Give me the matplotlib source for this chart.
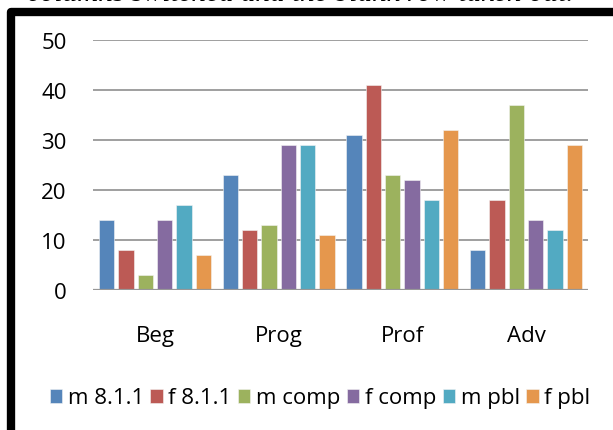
import matplotlib
matplotlib.use("Agg")
import matplotlib.pyplot as plt
import numpy as np
from matplotlib.lines import Line2D

levels = ["Beg", "Prog", "Prof", "Adv"]
series_names = ["m 8.1.1", "f 8.1.1", "m comp", "f comp", "m pbl", "f pbl"]
m_811 = [14, 23, 31, 8]
f_811 = [8, 12, 41, 18]
m_comp = [3, 13, 23, 37]
f_comp = [14, 29, 22, 14]
m_pbl = [17, 29, 18, 12]
f_pbl = [7, 11, 32, 29]
y_ticks = [0, 10, 20, 30, 40, 50]

colors = ["#5585ba", "#bc5a55", "#9cb25e", "#856ba0", "#52aac2", "#e5974d"]
FONT = "Open Sans"

W, H = 613, 431
fig = plt.figure(figsize=(W / 100, H / 100), dpi=100)
fig.patch.set_facecolor("white")

# caption line, mostly above the top edge
fig.text(300 / W, 1 - 1 / H, "columns switched and the blank row taken out.",
         ha="center", va="baseline", fontsize=21, style="italic",
         family="Liberation Serif", color="black")

# thick black frame (only the top and left sides fall inside the image)
frame = Line2D([11 / W, 11 / W, 1.2], [-0.2, 1 - 13 / H, 1 - 13 / H],
               transform=fig.transFigure, color="black", lw=6,
               solid_joinstyle="round", solid_capstyle="butt")
fig.add_artist(frame)

ax = fig.add_axes([93 / W, 1 - 291 / H, (588 - 93) / W, 250 / H])
data = [m_811, f_811, m_comp, f_comp, m_pbl, f_pbl]
x = np.arange(len(levels))
slot = 0.1562
width = 0.1236
bars = []
for i, (vals, c) in enumerate(zip(data, colors)):
    b = ax.bar(x + (i - 2.5) * slot, vals, width=width, color=c,
               edgecolor="#f4f4f4", linewidth=0.4, zorder=3,
               label=series_names[i])
    bars.append(b)

ax.set_xlim(-0.5, len(levels) - 0.5)
ax.set_ylim(0, 50)
ax.set_yticks(y_ticks)
ax.set_yticklabels([str(t) for t in y_ticks], fontsize=16, family=FONT)
ax.set_xticks(x)
ax.set_xticklabels(levels, fontsize=16, family=FONT)
ax.tick_params(axis="both", length=0, colors="black")
ax.tick_params(axis="y", pad=19)
ax.tick_params(axis="x", pad=25)
ax.grid(axis="y", color="#979797", lw=1.3, zorder=0)
for name, sp in ax.spines.items():
    sp.set_visible(False)
ax.axhline(0, color="#979797", lw=1.6, zorder=4)

fig.legend(handles=bars, labels=series_names, loc="center",
           bbox_to_anchor=(320 / W, 1 - 399 / H), ncol=6, frameon=False,
           prop={"family": FONT, "size": 16}, handlelength=0.55,
           handleheight=0.6, handletextpad=0.25, columnspacing=0.3,
           borderpad=0)

fig.savefig("out.png", dpi=100, facecolor="white")
